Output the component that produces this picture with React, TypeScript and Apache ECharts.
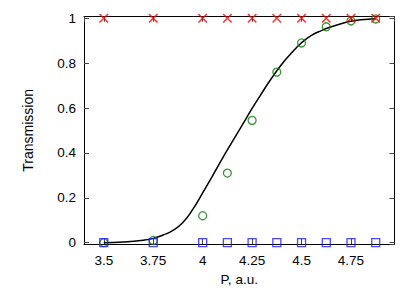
import React, { useEffect, useRef } from "react";
import * as echarts from "echarts";

// Measured points
const pX = [3.5, 3.75, 4, 4.125, 4.25, 4.375, 4.5, 4.625, 4.75, 4.875];
const redY = [1, 1, 1, 1, 1, 1, 1, 1, 1, 1];
const blueY = [0, 0, 0, 0, 0, 0, 0, 0, 0, 0];
const greenY = [0, 0.01, 0.12, 0.31, 0.545, 0.76, 0.89, 0.962, 0.988, 0.997];

// Fitted curve
const curveX = [3.5, 3.6, 3.7, 3.75, 3.8, 3.85, 3.9, 3.95, 4.0, 4.05, 4.1, 4.15, 4.2, 4.25, 4.3, 4.35, 4.4, 4.45, 4.5, 4.55, 4.6, 4.65, 4.7, 4.75, 4.8, 4.875];
const curveY = [0.0, 0.003, 0.011, 0.019, 0.034, 0.055, 0.09, 0.148, 0.222, 0.298, 0.376, 0.45, 0.524, 0.598, 0.668, 0.735, 0.795, 0.846, 0.891, 0.924, 0.945, 0.962, 0.976, 0.987, 0.993, 0.998];

const xTickStep = 0.25;
const yTickStep = 0.2;

const FONT = "'Liberation Sans', Arial, Helvetica, sans-serif";

const isMultiple = (v: number, step: number) => {
  const r = v / step;
  return Math.abs(r - Math.round(r)) < 1e-6;
};

export default function App() {
  const ref = useRef<HTMLDivElement>(null);
  useEffect(() => {
    if (!ref.current) return;
    const chart = echarts.init(ref.current, null, { renderer: "svg" });
    const tickStyle = { show: true, inside: true, length: 5, lineStyle: { color: "#444", width: 1 } };
    const commonX = {
      type: "value" as const,
      min: 3.4,
      max: 4.97,
      minInterval: xTickStep,
      maxInterval: xTickStep,
      splitLine: { show: false },
      axisLine: { show: true, onZero: false, lineStyle: { color: "#000", width: 1 } },
      axisTick: tickStyle,
    };
    const commonY = {
      type: "value" as const,
      min: -0.006,
      max: 1.007,
      minInterval: yTickStep,
      maxInterval: yTickStep,
      splitLine: { show: false },
      axisLine: { show: true, onZero: false, lineStyle: { color: "#000", width: 1 } },
      axisTick: tickStyle,
    };
    const markerBase = { color: "rgba(0,0,0,0)", borderWidth: 1.3 };
    chart.setOption({
      animation: false,
      backgroundColor: "#fff",
      textStyle: { fontFamily: FONT },
      grid: { left: 84, right: 20.5, top: 16.7, bottom: 45.3, containLabel: false },
      xAxis: [
        {
          ...commonX,
          position: "bottom",
          name: "P, a.u.",
          nameLocation: "middle",
          nameGap: 28,
          nameTextStyle: { color: "#000", fontSize: 13.5, fontFamily: FONT },
          axisLabel: {
            show: true,
            color: "#000",
            fontSize: 13.5,
            fontFamily: FONT,
            margin: 9,
            showMinLabel: false,
            showMaxLabel: false,
            formatter: (v: number) => (isMultiple(v, xTickStep) ? String(+v.toFixed(4)) : ""),
          },
        },
        { ...commonX, position: "top", axisLabel: { show: false } },
      ],
      yAxis: [
        {
          ...commonY,
          position: "left",
          name: "Transmission",
          nameLocation: "middle",
          nameGap: 49,
          nameTextStyle: { color: "#000", fontSize: 14, fontFamily: FONT },
          axisLabel: {
            show: true,
            color: "#000",
            fontSize: 13.5,
            fontFamily: FONT,
            margin: 8,
            showMinLabel: false,
            showMaxLabel: false,
            formatter: (v: number) => (isMultiple(v, yTickStep) ? String(+v.toFixed(4)) : ""),
          },
        },
        { ...commonY, position: "right", axisLabel: { show: false } },
      ],
      series: [
        {
          type: "line",
          data: curveX.map((x, i) => [x, curveY[i]]),
          smooth: true,
          showSymbol: false,
          lineStyle: { color: "#000", width: 1.5 },
          z: 1,
        },
        {
          type: "scatter",
          data: pX.map((x, i) => [x, greenY[i]]),
          symbol: "circle",
          symbolSize: 8,
          itemStyle: { ...markerBase, borderColor: "#0a7a0a" },
          z: 2,
        },
        {
          type: "scatter",
          data: pX.map((x, i) => [x, blueY[i]]),
          symbol: "rect",
          symbolSize: 8,
          itemStyle: { ...markerBase, borderColor: "#1a1aff" },
          z: 3,
        },
        {
          type: "scatter",
          data: pX.map((x, i) => [x, redY[i]]),
          symbol: "path://M0,0L10,10M10,0L0,10",
          symbolSize: 8.5,
          itemStyle: { ...markerBase, borderColor: "#ff0000", borderWidth: 1.6 },
          z: 4,
        },
      ],
    });
    return () => chart.dispose();
  }, []);
  return <div ref={ref} style={{ position: "fixed", left: 0, top: 0, width: 415, height: 291 }} />;
}
